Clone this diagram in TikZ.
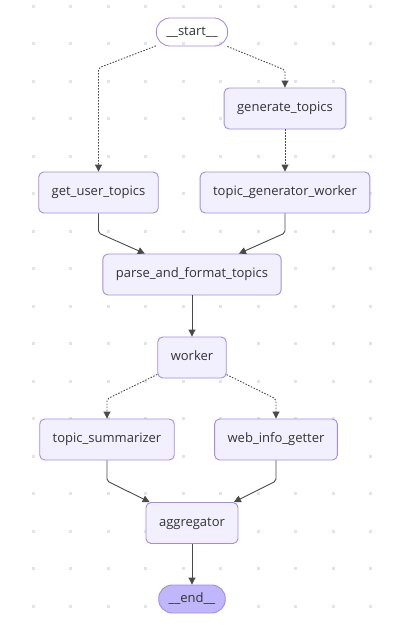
\documentclass[tikz,border=0pt]{standalone}
\usepackage{fontspec}
\setmainfont{Open Sans}
\usetikzlibrary{arrows.meta}

\definecolor{nodefill}{HTML}{F2F0FF}
\definecolor{nodeline}{HTML}{A58BE6}
\definecolor{endfill}{HTML}{BFB6FC}
\definecolor{edgecol}{HTML}{4A4A4A}
\definecolor{gridcol}{HTML}{E4E4E4}
\definecolor{txtcol}{HTML}{333333}

\begin{document}
\begin{tikzpicture}[x=1pt, y=-1pt,
    box/.style={draw=nodeline, fill=nodefill, rounded corners=5pt, line width=0.9pt,
      minimum height=41pt, inner xsep=13pt, text=txtcol, text height=9pt, text depth=3pt,
      font=\fontsize{13}{15}\selectfont},
    term/.style={box, rounded corners=13.5pt, minimum height=28pt, inner xsep=10pt},
    flow/.style={draw=edgecol, line width=0.9pt, rounded corners=2pt,
      -{Triangle[length=7pt,width=7pt]}},
    cond/.style={flow, dash pattern=on 1.5pt off 1.5pt}]
    \useasboundingbox (0,0) rectangle (400,638);

    \foreach \i in {0,...,9}
      \foreach \j in {0,...,16}
        \fill[gridcol] (31.5+37.5*\i, 4.5+37.5*\j) rectangle ++(3,3);

    \node[term, fill=none] (start) at (192,32) {\_\_start\_\_};
    \node[box] (gen) at (285,108.5) {generate\_topics};
    \node[box] (user) at (98.5,192.5) {get\_user\_topics};
    \node[box] (tgw) at (285,192.5) {topic\_generator\_worker};
    \node[box] (parse) at (192,274.5) {parse\_and\_format\_topics};
    \node[box] (worker) at (192,357.5) {worker};
    \node[box] (summ) at (107,439.5) {topic\_summarizer};
    \node[box] (web) at (276,439.5) {web\_info\_getter};
    \node[box] (agg) at (192,523) {aggregator};
    \node[term, fill=endfill] (end) at (192,599) {\_\_end\_\_};

    \coordinate (s1) at (98.5,68);
    \coordinate (s2) at (285,70);
    \draw[cond] (start) -- (s1) -- (user);
    \draw[cond] (start) -- (s2) -- (gen);
    \draw[cond] (gen) -- (tgw);

    \coordinate (p1) at (98.5,233);
    \coordinate (p2) at (285,233);
    \draw[flow] (user) -- (p1) -- (parse);
    \draw[flow] (tgw) -- (p2) -- (parse);
    \draw[flow] (parse) -- (worker);

    \coordinate (w1) at (107,399);
    \coordinate (w2) at (276,399);
    \draw[cond] (worker) -- (w1) -- (summ);
    \draw[cond] (worker) -- (w2) -- (web);

    \coordinate (a1) at (107,481);
    \coordinate (a2) at (276,481);
    \draw[flow] (summ) -- (a1) -- (agg);
    \draw[flow] (web) -- (a2) -- (agg);
    \draw[flow] (agg) -- (end);
\end{tikzpicture}
\end{document}
